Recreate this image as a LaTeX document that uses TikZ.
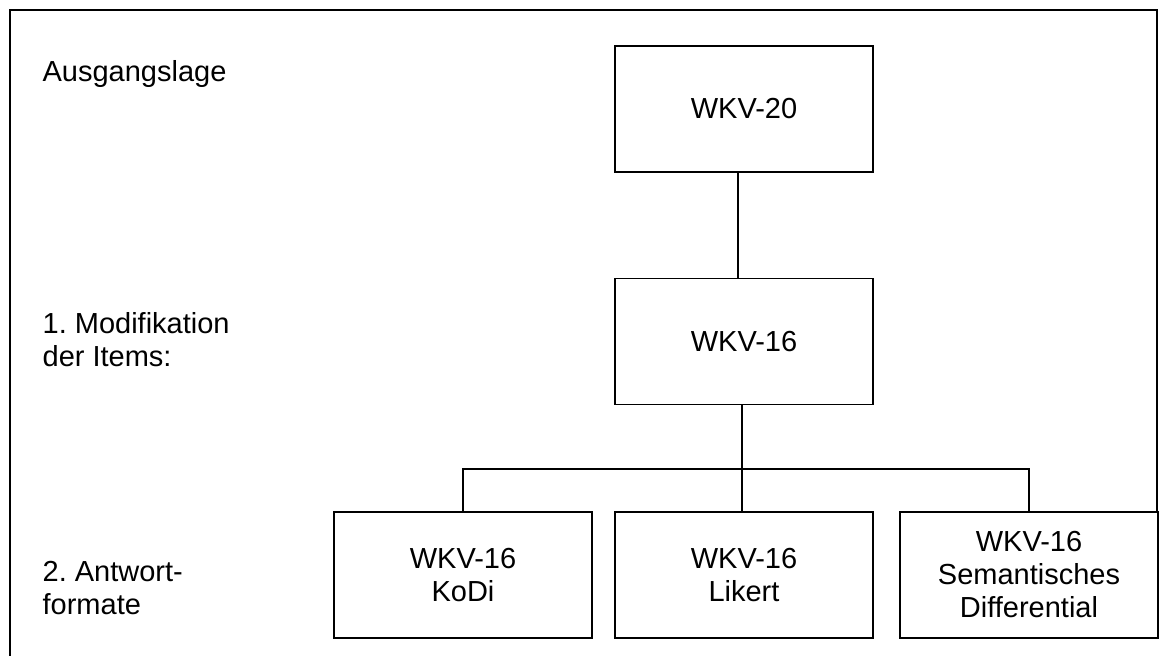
\documentclass[tikz,border=0pt]{standalone}
\usepackage{fontspec}
\setmainfont{Liberation Sans}
\frenchspacing
\begin{document}
\begin{tikzpicture}[x=1pt, y=-1pt,
  line width=1.3pt,
  every node/.style={font=\fontsize{29}{33}\selectfont},
  box/.style={draw, rectangle, minimum width=258pt, minimum height=126pt,
    align=center, inner sep=0pt, outer sep=0pt},
  label/.style={anchor=west, align=left, inner sep=0pt}]
  \useasboundingbox (0,0) rectangle (1163,656);

  % outer frame
  \coordinate (fbl) at (10,656);
  \coordinate (ftl) at (10,10);
  \coordinate (ftr) at (1157,10);
  \coordinate (fbr) at (1157,512);
  \draw (fbl) -- (ftl) -- (ftr) -- (fbr);

  % level labels
  \node[label] (l1) at (42,74) {Ausgangslage};
  \node[label] (l2) at (42,340) {1. Modifikation\\der Items:};
  \node[label] (l3) at (42,588) {2. Antwort-\\formate};

  % boxes
  \node[box] (wkv20) at (744,109) {WKV-20};
  \node[box] (wkv16) at (744,341.5) {WKV-16};
  \node[box] (kodi) at (463,575) {WKV-16\\KoDi};
  \node[box] (likert) at (744,575) {WKV-16\\Likert};
  \node[box] (sem) at (1029,575) {WKV-16\\Semantisches\\Differential};

  % connectors
  \coordinate (bus) at (742,469);
  \draw ([xshift=-6pt]wkv20.south) -- ([xshift=-6pt]wkv16.north);
  \draw ([xshift=-2pt]wkv16.south) -- ([xshift=-2pt]likert.north);
  \draw (kodi.north) -- (kodi.north |- bus) -- (sem.north |- bus) -- (sem.north);
\end{tikzpicture}
\end{document}
